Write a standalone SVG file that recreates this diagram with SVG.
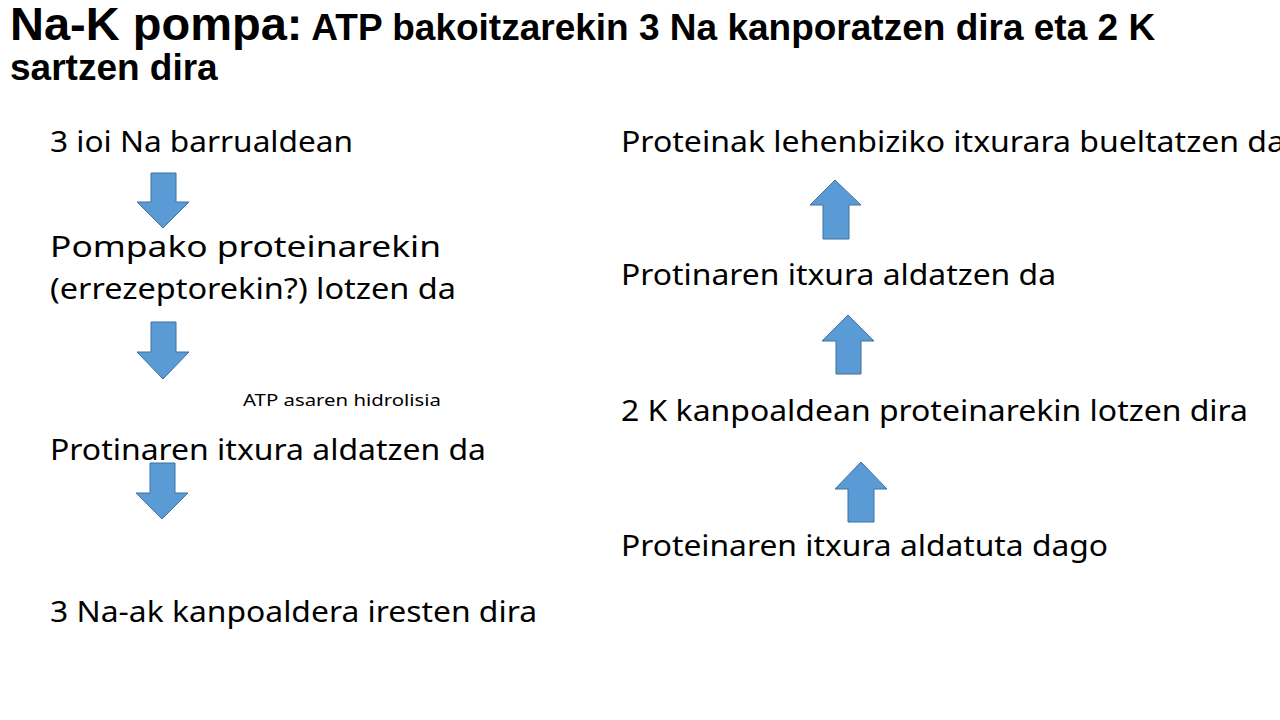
<svg xmlns="http://www.w3.org/2000/svg" width="1280" height="720" viewBox="0 0 1280 720">
<style>
.t{font-family:"Noto Sans","Open Sans",sans-serif;font-size:29px;fill:#000}
.s{font-family:"Noto Sans","Open Sans",sans-serif;font-size:17px;fill:#000}
.h{font-family:"Liberation Sans",Arial,sans-serif;font-weight:bold;fill:#000}
.a{fill:#5B9BD5;stroke:#41719C;stroke-width:1}
</style>
<rect width="1280" height="720" fill="#fff"/>
<g id="title">
<text class="h" x="10" y="40"><tspan font-size="47">Na-K pompa:</tspan><tspan font-size="37"> ATP bakoitzarekin 3 Na kanporatzen dira eta 2 K</tspan></text>
<text class="h" x="10" y="80" font-size="37">sartzen dira</text>
</g>
<g id="n1"><text class="t" x="50" y="152" textLength="303" lengthAdjust="spacingAndGlyphs">3 ioi Na barrualdean</text></g>
<g id="n2">
<text class="t" x="50" y="257" textLength="391" lengthAdjust="spacingAndGlyphs">Pompako proteinarekin</text>
<text class="t" x="50" y="299" textLength="406" lengthAdjust="spacingAndGlyphs">(errezeptorekin?) lotzen da</text>
</g>
<g id="lbl"><text class="s" x="243" y="406" textLength="198" lengthAdjust="spacingAndGlyphs">ATP asaren hidrolisia</text></g>
<g id="n3"><text class="t" x="50" y="460" textLength="436" lengthAdjust="spacingAndGlyphs">Protinaren itxura aldatzen da</text></g>
<g id="n4"><text class="t" x="50" y="622" textLength="487" lengthAdjust="spacingAndGlyphs">3 Na-ak kanpoaldera iresten dira</text></g>
<g id="n5"><text class="t" x="621" y="556" textLength="487" lengthAdjust="spacingAndGlyphs">Proteinaren itxura aldatuta dago</text></g>
<g id="n6"><text class="t" x="621" y="421" textLength="627" lengthAdjust="spacingAndGlyphs">2 K kanpoaldean proteinarekin lotzen dira</text></g>
<g id="n7"><text class="t" x="621" y="285" textLength="435" lengthAdjust="spacingAndGlyphs">Protinaren itxura aldatzen da</text></g>
<g id="n8"><text class="t" x="621" y="152" textLength="664" lengthAdjust="spacingAndGlyphs">Proteinak lehenbiziko itxurara bueltatzen da</text></g>
<g id="connectors">
<path class="a" d="M151,173 H176 V202 H189 L163,228 L137,202 H151 Z"/>
<path class="a" d="M151,322 H176 V352 H189 L163,379 L137,352 H151 Z"/>
<path class="a" d="M150,463 H175 V493 H188 L162,519 L136,493 H150 Z"/>
<path class="a" d="M848,522 H874 V489 H887 L861,462 L835,489 H848 Z"/>
<path class="a" d="M836,374 H861 V341 H874 L848,315 L822,341 H836 Z"/>
<path class="a" d="M823,239 H849 V205 H861 L835,180 L810,205 H823 Z"/>
</g>
</svg>
